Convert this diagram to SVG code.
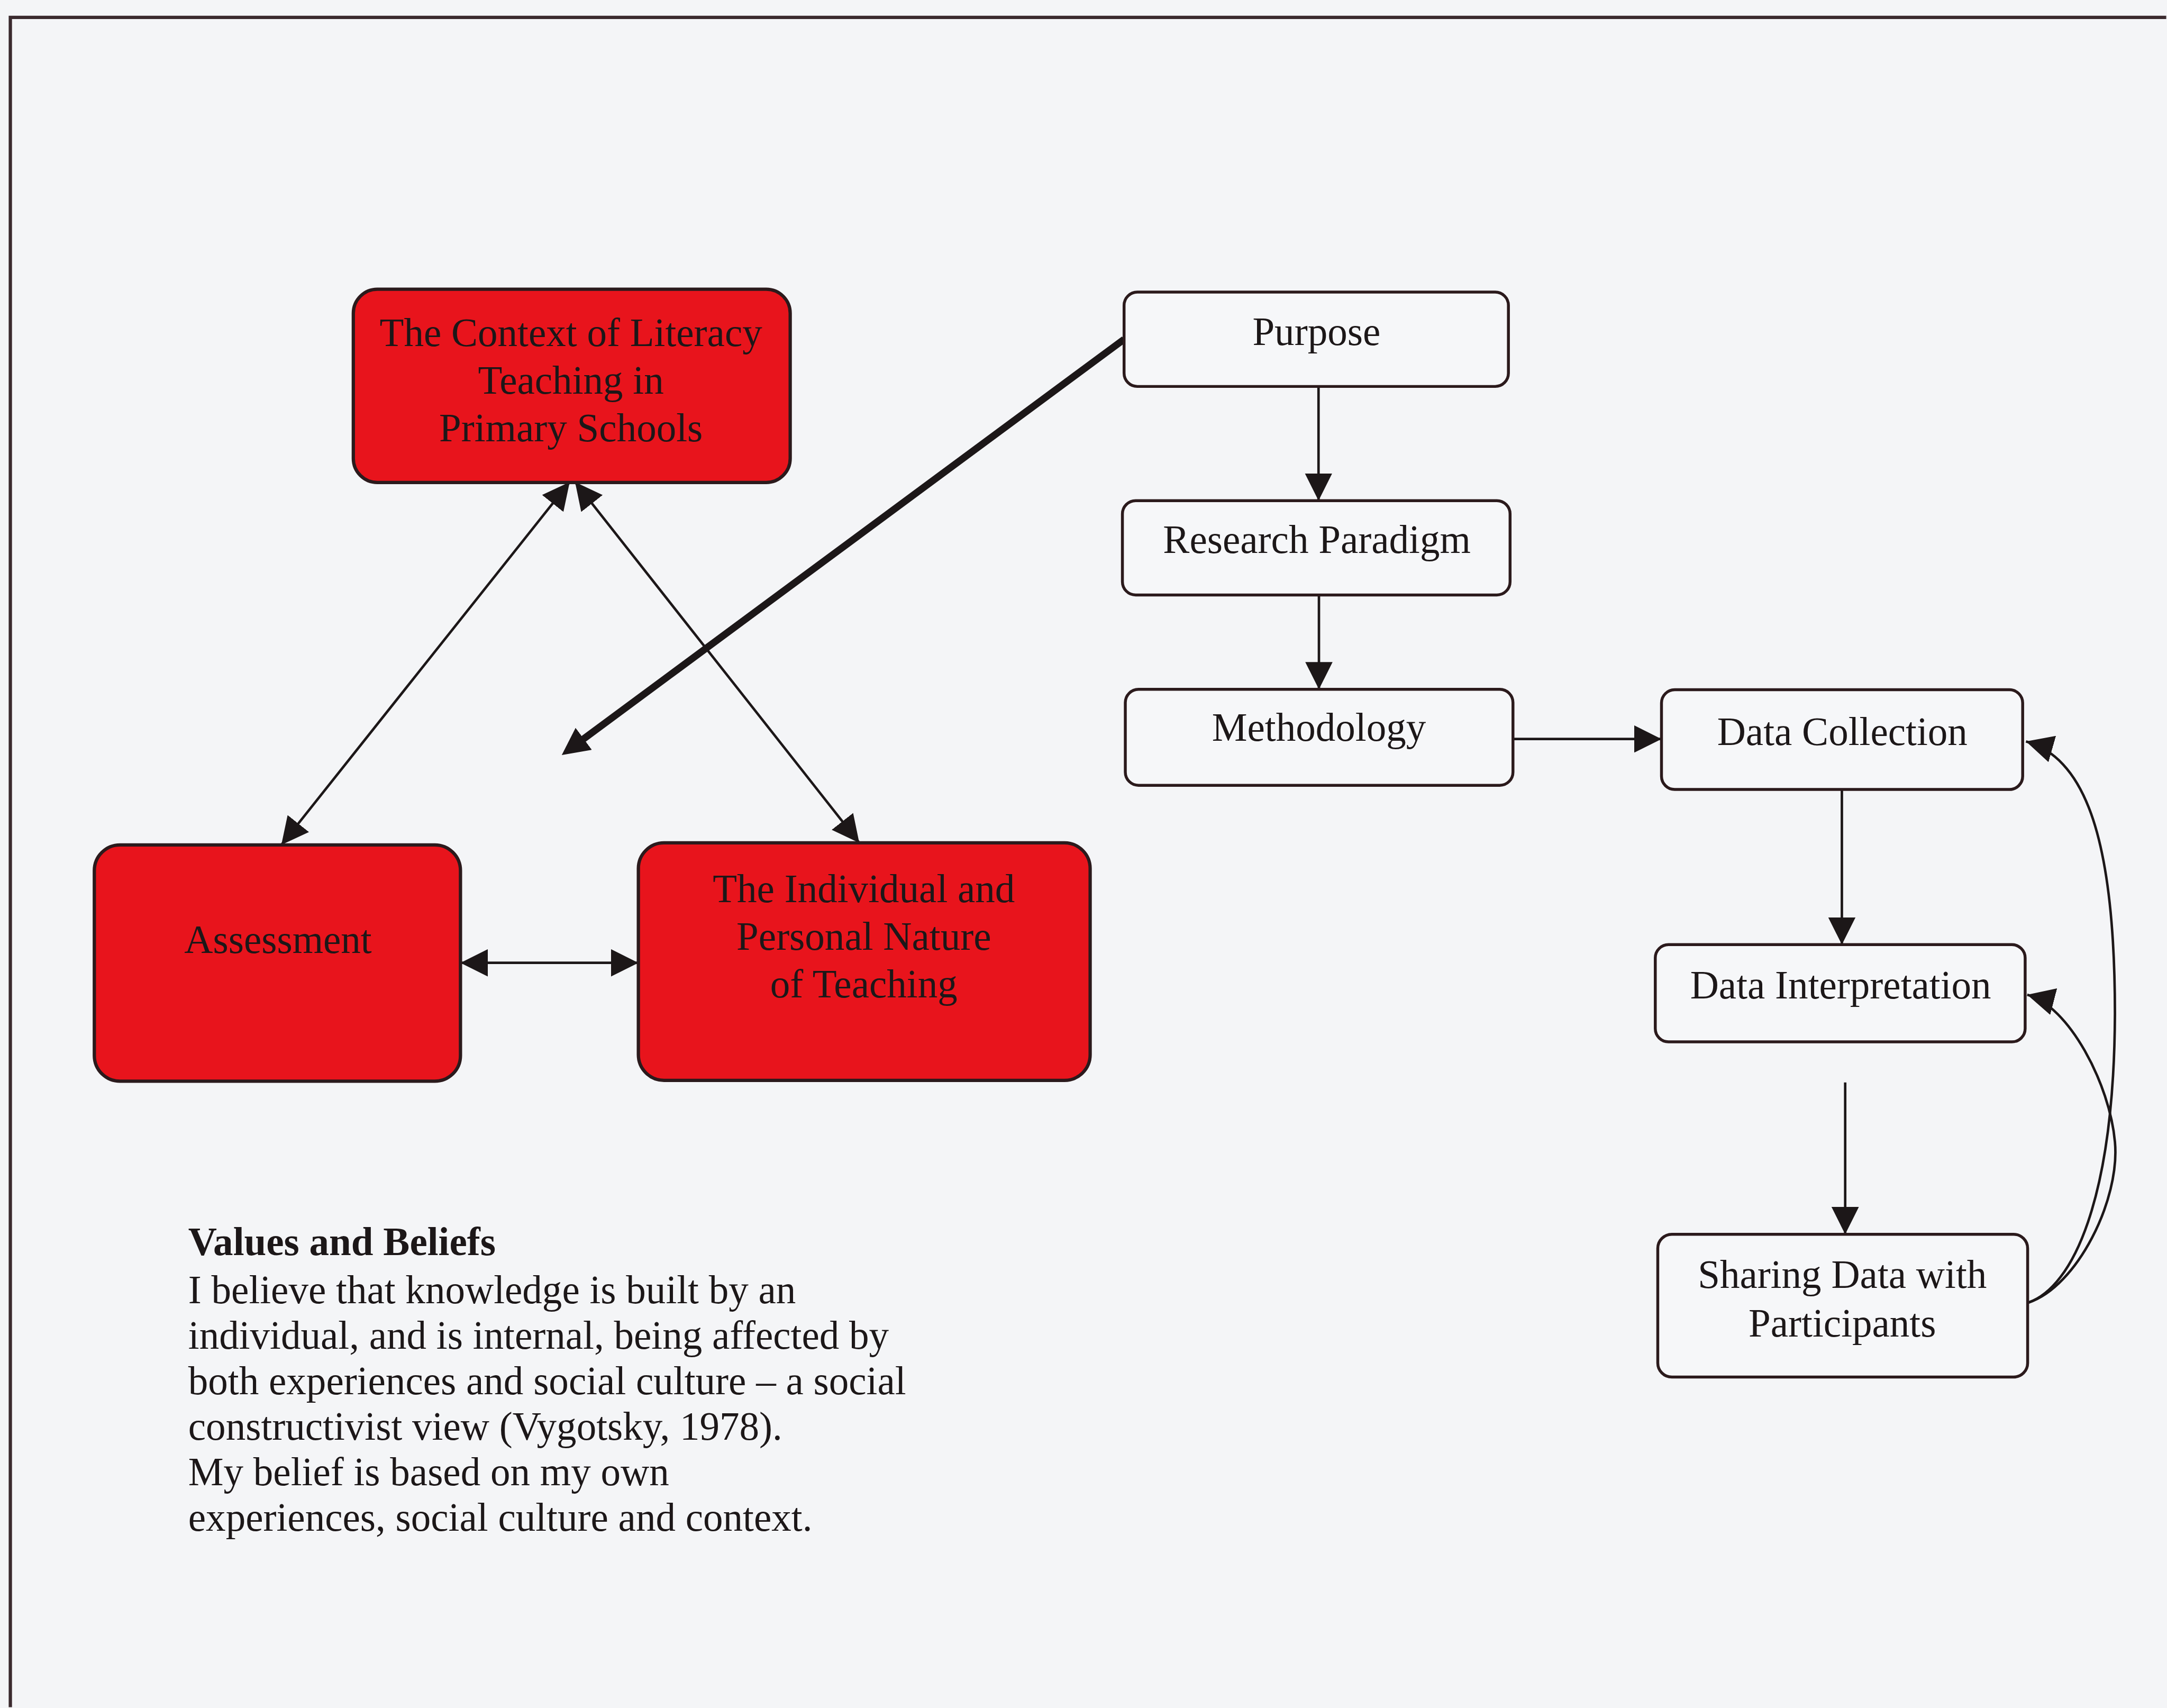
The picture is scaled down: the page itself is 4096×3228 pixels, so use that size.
<svg xmlns="http://www.w3.org/2000/svg" width="4096" height="3228" viewBox="0 0 4096 3228">
<defs>
<style>
.red{fill:#E8141C;stroke:#2B1A1C;stroke-width:8}
.box{fill:#F6F7F9;stroke:#2B1A1C;stroke-width:7}
.t{font-family:"Liberation Serif","Times New Roman",serif;font-size:96px;fill:#1C1718;text-anchor:middle}
.p{font-family:"Liberation Serif","Times New Roman",serif;font-size:96px;fill:#1C1718}
.b{font-weight:bold}
.ln{fill:none;stroke:#1C1718;stroke-width:6}
.thick{fill:none;stroke:#1C1718;stroke-width:17}
</style>
<marker id="ah" viewBox="0 0 66 66" refX="66" refY="33" markerWidth="66" markerHeight="66" markerUnits="userSpaceOnUse" orient="auto-start-reverse">
<path d="M0,0 L66,33 L0,66 Z" fill="#1C1718"/>
</marker>
<marker id="ahT" viewBox="0 0 66 66" refX="26" refY="33" markerWidth="66" markerHeight="66" markerUnits="userSpaceOnUse" orient="auto">
<path d="M0,0 L66,33 L0,66 Z" fill="#1C1718"/>
</marker>
</defs>
<rect x="0" y="0" width="4096" height="3228" fill="#F4F5F7"/>
<g transform="scale(0.782)">
<path d="M25 4126 L25 42 L5236 42" fill="none" stroke="#3A2A2E" stroke-width="8"/>

<g id="connectors">
<line class="ln" x1="1377" y1="1165" x2="680" y2="2042" marker-start="url(#ah)" marker-end="url(#ah)"/>
<line class="ln" x1="1390" y1="1165" x2="2077" y2="2037" marker-start="url(#ah)" marker-end="url(#ah)"/>
<line class="ln" x1="1113" y1="2327" x2="1543" y2="2327" marker-start="url(#ah)" marker-end="url(#ah)"/>
<line class="thick" x1="2717" y1="820" x2="1390" y2="1801" marker-end="url(#ahT)"/>
<line class="ln" x1="3187" y1="934" x2="3187" y2="1210" marker-end="url(#ah)"/>
<line class="ln" x1="3188" y1="1438" x2="3188" y2="1666" marker-end="url(#ah)"/>
<line class="ln" x1="3657" y1="1786" x2="4016" y2="1786" marker-end="url(#ah)"/>
<line class="ln" x1="4452" y1="1908" x2="4452" y2="2283" marker-end="url(#ah)"/>
<line class="ln" x1="4460" y1="2616" x2="4460" y2="2983" marker-end="url(#ah)"/>
<path class="ln" d="M4903 3148 C5010 3110 5110 2900 5112 2450 C5112 2000 5030 1830 4897 1792" marker-end="url(#ah)"/>
<path class="ln" d="M4903 3148 C5020 3110 5125 2900 5112 2760 C5100 2620 5000 2430 4900 2404" marker-end="url(#ah)"/>
</g>

<g id="node-context">
<rect class="red" x="854" y="699" width="1056" height="467" rx="58"/>
<text class="t" x="1380" y="836">The Context of Literacy</text>
<text class="t" x="1380" y="951">Teaching in</text>
<text class="t" x="1380" y="1066">Primary Schools</text>
</g>
<g id="node-assessment">
<rect class="red" x="228" y="2042" width="885" height="571" rx="62"/>
<text class="t" x="672" y="2303">Assessment</text>
</g>
<g id="node-individual">
<rect class="red" x="1543" y="2037" width="1092" height="574" rx="62"/>
<text class="t" x="2088" y="2180">The Individual and</text>
<text class="t" x="2088" y="2296">Personal Nature</text>
<text class="t" x="2088" y="2410">of Teaching</text>
</g>
<g id="node-purpose">
<rect class="box" x="2717" y="706" width="929" height="228" rx="32"/>
<text class="t" x="3182" y="834">Purpose</text>
</g>
<g id="node-paradigm">
<rect class="box" x="2713" y="1210" width="937" height="228" rx="32"/>
<text class="t" x="3183" y="1336">Research Paradigm</text>
</g>
<g id="node-methodology">
<rect class="box" x="2720" y="1666" width="937" height="232" rx="32"/>
<text class="t" x="3188" y="1790">Methodology</text>
</g>
<g id="node-collection">
<rect class="box" x="4016" y="1667" width="873" height="241" rx="32"/>
<text class="t" x="4453" y="1801">Data Collection</text>
</g>
<g id="node-interpretation">
<rect class="box" x="4001" y="2283" width="894" height="235" rx="32"/>
<text class="t" x="4449" y="2413">Data Interpretation</text>
</g>
<g id="node-sharing">
<rect class="box" x="4007" y="2983" width="894" height="345" rx="34"/>
<text class="t" x="4453" y="3113">Sharing Data with</text>
<text class="t" x="4453" y="3230">Participants</text>
</g>
<g id="node-values">
<text class="p b" x="455" y="3033">Values and Beliefs</text>
<text class="p" x="455" y="3150">I believe that knowledge is built by an</text>
<text class="p" x="455" y="3260">individual, and is internal, being affected by</text>
<text class="p" x="455" y="3370">both experiences and social culture – a social</text>
<text class="p" x="455" y="3480">constructivist view (Vygotsky, 1978).</text>
<text class="p" x="455" y="3589">My belief is based on my own</text>
<text class="p" x="455" y="3699">experiences, social culture and context.</text>
</g>
</g>
</svg>
